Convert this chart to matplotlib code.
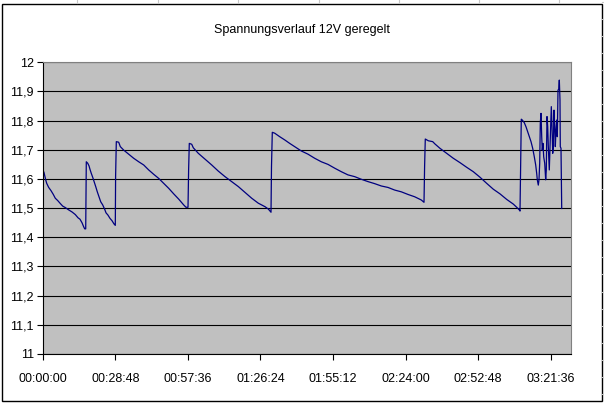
import numpy as np
import matplotlib
matplotlib.use("Agg")
import matplotlib.pyplot as plt
from matplotlib.lines import Line2D
from matplotlib.patches import Rectangle
from matplotlib.ticker import FuncFormatter

plt.rcParams['font.family'] = ['Liberation Sans', 'DejaVu Sans']

# logged data: minutes since start, voltage (V)
minutes = [
    0.00, 0.44, 1.11, 1.51, 2.30, 3.22, 4.13, 4.92, 5.88, 6.79, 7.86, 8.89,
    10.24, 11.56, 12.87, 13.94, 14.73, 15.53, 16.20, 16.60, 17.00,
    17.12, 17.23, 17.79, 18.31, 18.70, 19.22, 19.77, 20.41, 20.97, 21.60,
    22.28, 22.95, 23.75, 24.54, 25.06, 25.85, 26.64, 27.44, 28.23, 28.75,
    28.87, 29.15, 30.10, 30.73, 32.08, 34.07, 36.05, 38.04, 40.03, 42.01,
    44.00, 45.98, 47.97, 49.95, 51.94, 53.92, 55.91, 56.82, 57.62,
    57.86, 58.13, 59.09, 59.72, 61.71, 64.37, 67.03, 69.65, 72.31, 74.97,
    77.59, 80.25, 82.91, 85.53, 88.19, 89.50, 90.18, 90.58,
    90.77, 91.09, 92.04, 94.03, 96.01, 98.00, 99.98, 102.61, 105.27, 107.93,
    110.55, 113.21, 115.87, 118.49, 121.15, 123.81, 126.43, 129.09, 131.75,
    134.37, 137.03, 139.69, 142.31, 144.97, 147.63, 150.25, 151.33,
    151.57, 151.84, 153.03, 154.78, 155.69, 157.68, 160.34, 162.96, 165.62,
    168.28, 170.90, 173.56, 176.22, 178.84, 181.50, 184.16, 186.78, 188.14,
    189.17, 189.45,
    189.65, 189.96, 190.36, 191.15, 191.83, 192.50, 193.14, 193.82, 194.49,
    195.13, 195.68, 196.08, 196.32, 196.71, 196.99, 197.27, 197.51, 197.79,
    198.07, 198.30, 198.58, 198.86, 199.26, 199.65, 199.89, 200.17, 200.45,
    200.69, 200.96, 201.08, 201.36, 201.64, 201.88, 202.16, 202.44, 202.67,
    202.95, 203.23, 203.47, 203.75, 204.02, 204.26, 204.54, 204.82, 205.06,
    205.33, 205.45, 205.73, 206.01,
]
volts = [
    11.631, 11.622, 11.597, 11.585, 11.571, 11.560, 11.547, 11.534, 11.526,
    11.517, 11.507, 11.502, 11.494, 11.487, 11.478, 11.467, 11.462, 11.450,
    11.436, 11.429, 11.429,
    11.530, 11.659, 11.654, 11.645, 11.633, 11.619, 11.606, 11.589, 11.574,
    11.556, 11.539, 11.522, 11.511, 11.496, 11.484, 11.476, 11.465, 11.457,
    11.446, 11.441,
    11.610, 11.728, 11.726, 11.711, 11.699, 11.685, 11.671, 11.659, 11.648,
    11.631, 11.616, 11.602, 11.585, 11.568, 11.549, 11.531, 11.511, 11.503,
    11.503,
    11.631, 11.722, 11.719, 11.707, 11.688, 11.668, 11.648, 11.627, 11.608,
    11.591, 11.574, 11.554, 11.534, 11.517, 11.505, 11.497, 11.490, 11.486,
    11.642, 11.760, 11.757, 11.745, 11.734, 11.722, 11.711, 11.696, 11.685,
    11.671, 11.659, 11.650, 11.637, 11.625, 11.614, 11.608, 11.599, 11.591,
    11.584, 11.576, 11.571, 11.562, 11.556, 11.547, 11.539, 11.528, 11.520,
    11.644, 11.737, 11.731, 11.728, 11.720, 11.705, 11.688, 11.671, 11.656,
    11.640, 11.625, 11.606, 11.585, 11.565, 11.549, 11.530, 11.514, 11.503,
    11.494, 11.490,
    11.625, 11.805, 11.802, 11.793, 11.779, 11.762, 11.745, 11.728, 11.705,
    11.676, 11.648, 11.619, 11.597, 11.579, 11.597, 11.654, 11.791, 11.825,
    11.745, 11.699, 11.722, 11.676, 11.654, 11.597, 11.631, 11.814, 11.779,
    11.711, 11.654, 11.631, 11.711, 11.791, 11.848, 11.779, 11.688, 11.711,
    11.836, 11.779, 11.711, 11.768, 11.802, 11.745, 11.905, 11.907, 11.939,
    11.871, 11.711, 11.705, 11.499,
]

title = "Spannungsverlauf 12V geregelt"
x_ticks = np.arange(0, 202, 28.8)   # every 28:48
y_ticks = np.round(np.arange(11.0, 12.01, 0.1), 1)


def fmt_time(m, pos):
    s = int(round(m * 60))
    return "%02d:%02d:%02d" % (s // 3600, (s // 60) % 60, s % 60)


def fmt_volt(v, pos):
    return ("%g" % round(v, 1)).replace(".", ",")


fig = plt.figure(figsize=(6.04, 4.05), dpi=100)
fig.patch.set_facecolor("white")

# spreadsheet cell lines peeking out around the chart object
for xp in [77, 157.5, 238, 318.5, 399, 479, 559]:
    fig.add_artist(Line2D([xp / 604, xp / 604], [1 - 3 / 405, 1], color="#c8c8c8", lw=0.8))
for yp in np.arange(1.5, 405, 17.06):
    fig.add_artist(Line2D([602 / 604, 1], [1 - yp / 405, 1 - yp / 405], color="#c8c8c8", lw=0.8))

# chart border
fig.add_artist(Rectangle((1.5 / 604, 1 - 400.5 / 405), 600 / 604, 397 / 405,
                         fill=False, edgecolor="black", lw=1.0))

ax = fig.add_axes([42.9 / 604, 1 - 354 / 405, (571 - 42.9) / 604, (354 - 62.3) / 405])
ax.set_facecolor("#c0c0c0")
ax.plot(minutes, volts, color="#000080", lw=0.9)

ax.set_xlim(0, 209.7)
ax.set_ylim(11, 12)
ax.set_xticks(x_ticks)
ax.set_yticks(y_ticks)
ax.xaxis.set_major_formatter(FuncFormatter(fmt_time))
ax.yaxis.set_major_formatter(FuncFormatter(fmt_volt))

ax.set_axisbelow(True)
ax.yaxis.grid(True, color="black", lw=0.8)
ax.xaxis.grid(False)

for side in ["left", "bottom"]:
    ax.spines[side].set_color("black")
    ax.spines[side].set_linewidth(0.8)
for side in ["top", "right"]:
    ax.spines[side].set_color("#808080")
    ax.spines[side].set_linewidth(0.8)

ax.tick_params(axis="both", direction="out", length=4, width=0.8, labelsize=9, colors="black")
ax.tick_params(axis="x", pad=10)
ax.tick_params(axis="y", pad=2.5)

fig.text(0.5, 1 - 30 / 405, title, ha="center", va="center", fontsize=9)

fig.savefig("out.png", dpi=100)
